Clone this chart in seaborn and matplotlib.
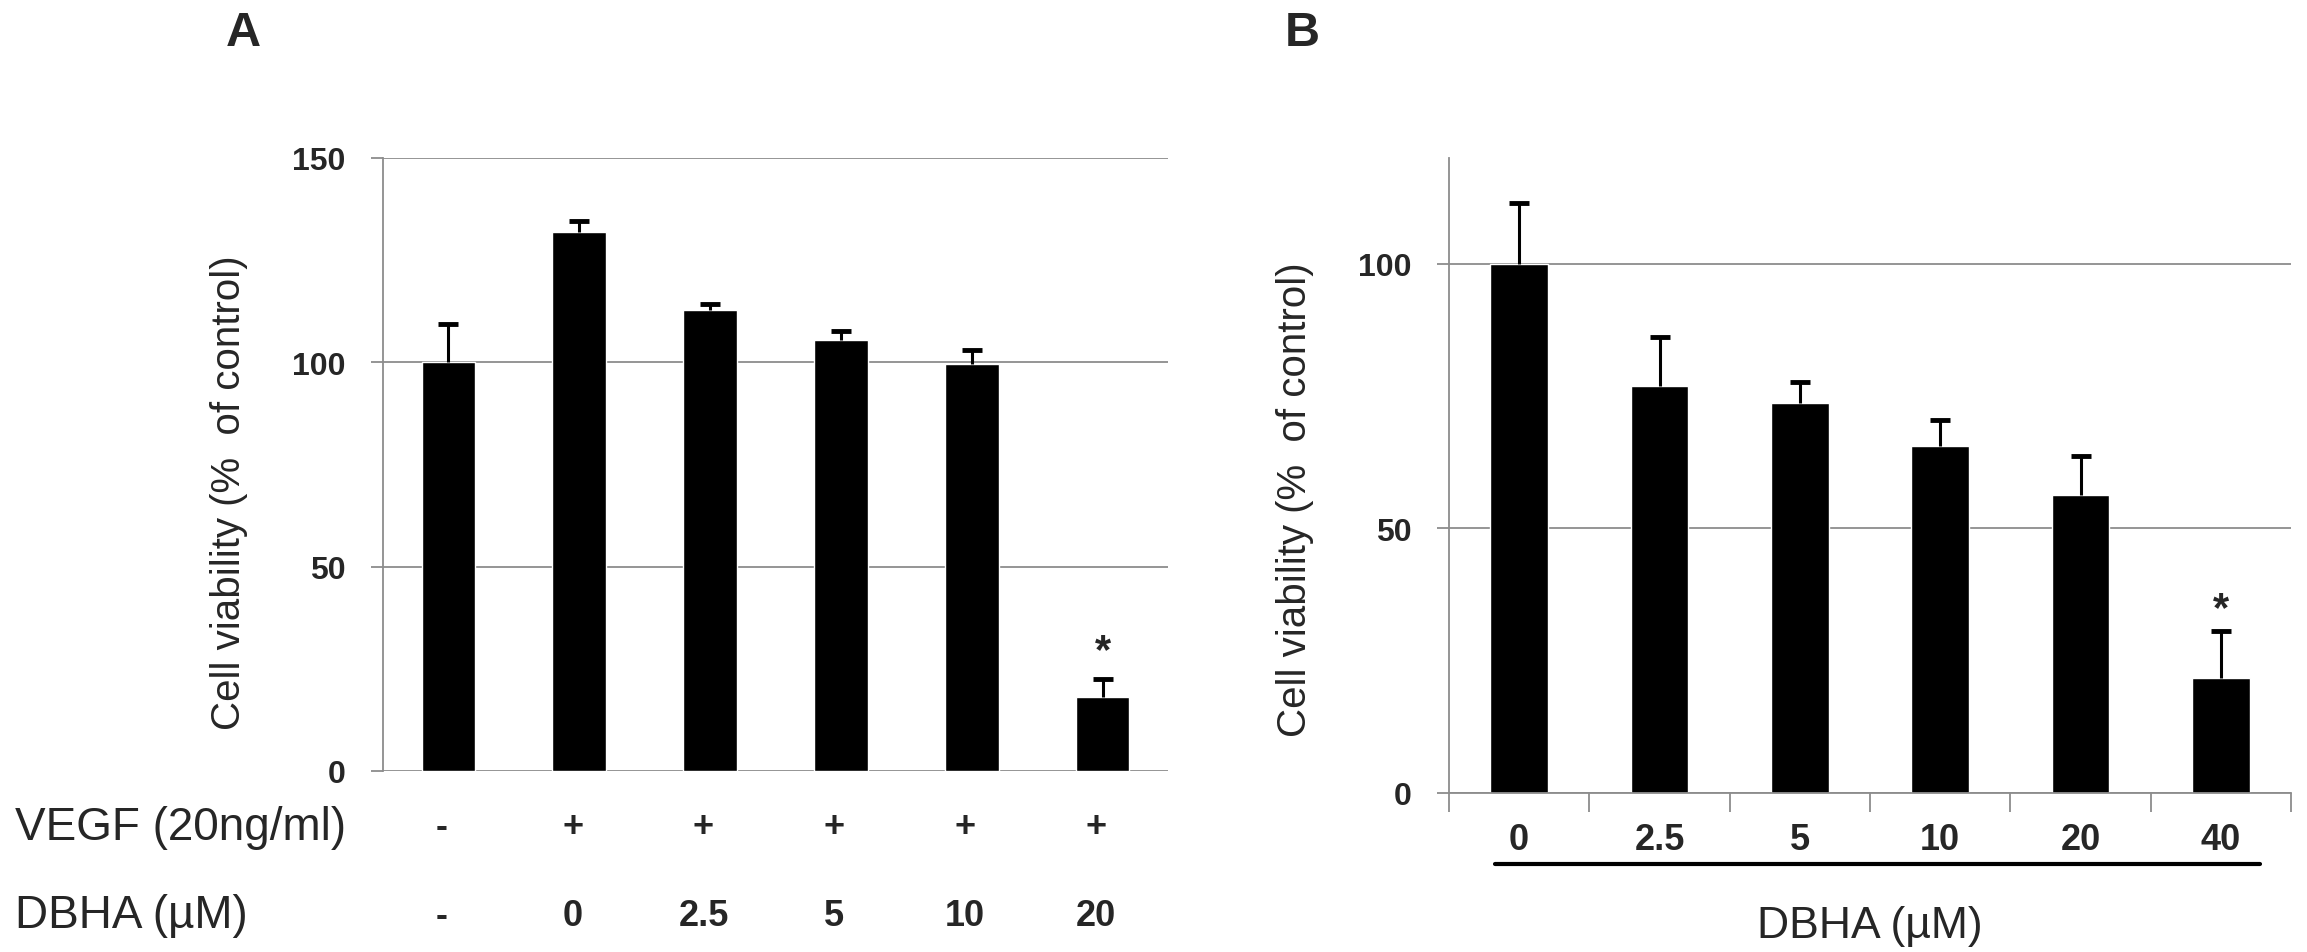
import matplotlib
matplotlib.use("Agg")
import matplotlib.pyplot as plt
import matplotlib.transforms as mtransforms
import seaborn as sns
import numpy as np

# panel A
vegf_labels = ["-", "+", "+", "+", "+", "+"]
dbha_a_labels = ["-", "0", "2.5", "5", "10", "20"]
viab_a = [100, 132, 112.7, 105.5, 99.7, 18.0]
err_a = [9.5, 2.7, 1.5, 2.2, 3.4, 4.4]

# panel B
dbha_b_labels = ["0", "2.5", "5", "10", "20", "40"]
viab_b = [100, 76.9, 73.7, 65.5, 56.4, 21.8]
err_b = [11.5, 9.2, 4.0, 5.0, 7.3, 8.9]

sns.set_style("white")
plt.rcParams["font.family"] = ["Liberation Sans", "DejaVu Sans"]

W, H = 2307, 953
fig = plt.figure(figsize=(W / 100, H / 100), dpi=100)
GRID = "#8c8c8c"


def px_axes(l, r, t, b):
    return fig.add_axes([l / W, 1 - b / H, (r - l) / W, (b - t) / H])


def draw_bars(ax, labels, vals, errs):
    sns.barplot(x=list(range(len(vals))), y=vals, color="black", width=0.41,
                errorbar=None, saturation=1, ax=ax, zorder=2)
    _, caps, _ = ax.errorbar(range(len(vals)), vals,
                             yerr=[np.zeros(len(errs)), errs],
                             fmt="none", ecolor="black", elinewidth=2.2,
                             capsize=7, capthick=3.5, zorder=3)
    # only the upper cap is wanted
    caps[0].set_visible(False)
    ax.set_xlim(-0.5, len(vals) - 0.5)
    ax.yaxis.grid(True, color=GRID, lw=1.3, zorder=0)
    ax.set_axisbelow(True)
    for s in ["top", "right"]:
        ax.spines[s].set_visible(False)
    ax.spines["left"].set_color(GRID)
    ax.spines["left"].set_linewidth(1.3)
    ax.tick_params(axis="y", left=True, length=9, width=1.3, color=GRID,
                   labelsize=23, pad=18)


# ---- A
axA = px_axes(383, 1168, 159, 772)
draw_bars(axA, dbha_a_labels, viab_a, err_a)
axA.set_ylim(0, 150)
axA.set_yticks([0, 50, 100, 150])
for t in axA.get_yticklabels():
    t.set_fontweight("bold")
axA.spines["bottom"].set_visible(False)
axA.set_xticks([])
axA.set_xlabel("")
axA.set_ylabel("Cell viability (%  of control)", fontsize=29)
axA.yaxis.set_label_coords(-0.172, 0.455)
axA.text(5, viab_a[5] + err_a[5] + 7, "*", ha="center", va="center",
         fontsize=30, fontweight="bold")
trA = mtransforms.blended_transform_factory(axA.transData, axA.transAxes)
for i, (v, d) in enumerate(zip(vegf_labels, dbha_a_labels)):
    axA.text(i - 0.05, -0.091, v, transform=trA, ha="center", va="center",
             fontsize=26, fontweight="bold")
    axA.text(i - 0.05, -0.235, d, transform=trA, ha="center", va="center",
             fontsize=26, fontweight="bold")
fig.text(15 / W, 1 - 828 / H, "VEGF (20ng/ml)", ha="left", va="center", fontsize=33)
fig.text(15 / W, 1 - 916 / H, "DBHA (\u00b5M)", ha="left", va="center", fontsize=33)

# ---- B
axB = px_axes(1449, 2291, 159, 794)
draw_bars(axB, dbha_b_labels, viab_b, err_b)
axB.set_ylim(0, 120)
axB.set_yticks([0, 50, 100])
for t in axB.get_yticklabels():
    t.set_fontweight("bold")
axB.spines["bottom"].set_color(GRID)
axB.spines["bottom"].set_linewidth(1.3)
axB.set_xticks(range(6))
axB.set_xticklabels(dbha_b_labels, fontsize=26, fontweight="bold")
axB.set_xticks(np.arange(-0.5, 6, 1), minor=True)
axB.tick_params(axis="x", which="major", bottom=False, length=0, pad=21)
axB.tick_params(axis="x", which="minor", bottom=True, length=14, width=1.3, color=GRID)
axB.set_xlabel("")
axB.set_ylabel("Cell viability (%  of control)", fontsize=29)
axB.yaxis.set_label_coords(-0.16, 0.463)
axB.text(5, viab_b[5] + err_b[5] + 4, "*", ha="center", va="center",
         fontsize=30, fontweight="bold")
trB = mtransforms.blended_transform_factory(axB.transData, axB.transAxes)
axB.plot([-0.17, 5.28], [-0.112, -0.112], transform=trB, color="black",
         lw=3, clip_on=False)
axB.text(0.5, -0.209, "DBHA (\u00b5M)", transform=axB.transAxes, ha="center",
         va="center", fontsize=32)

fig.text(243 / W, 1 - 34 / H, "A", ha="center", va="center", fontsize=35, fontweight="bold")
fig.text(1302 / W, 1 - 34 / H, "B", ha="center", va="center", fontsize=35, fontweight="bold")

fig.savefig("out.png", dpi=100)
